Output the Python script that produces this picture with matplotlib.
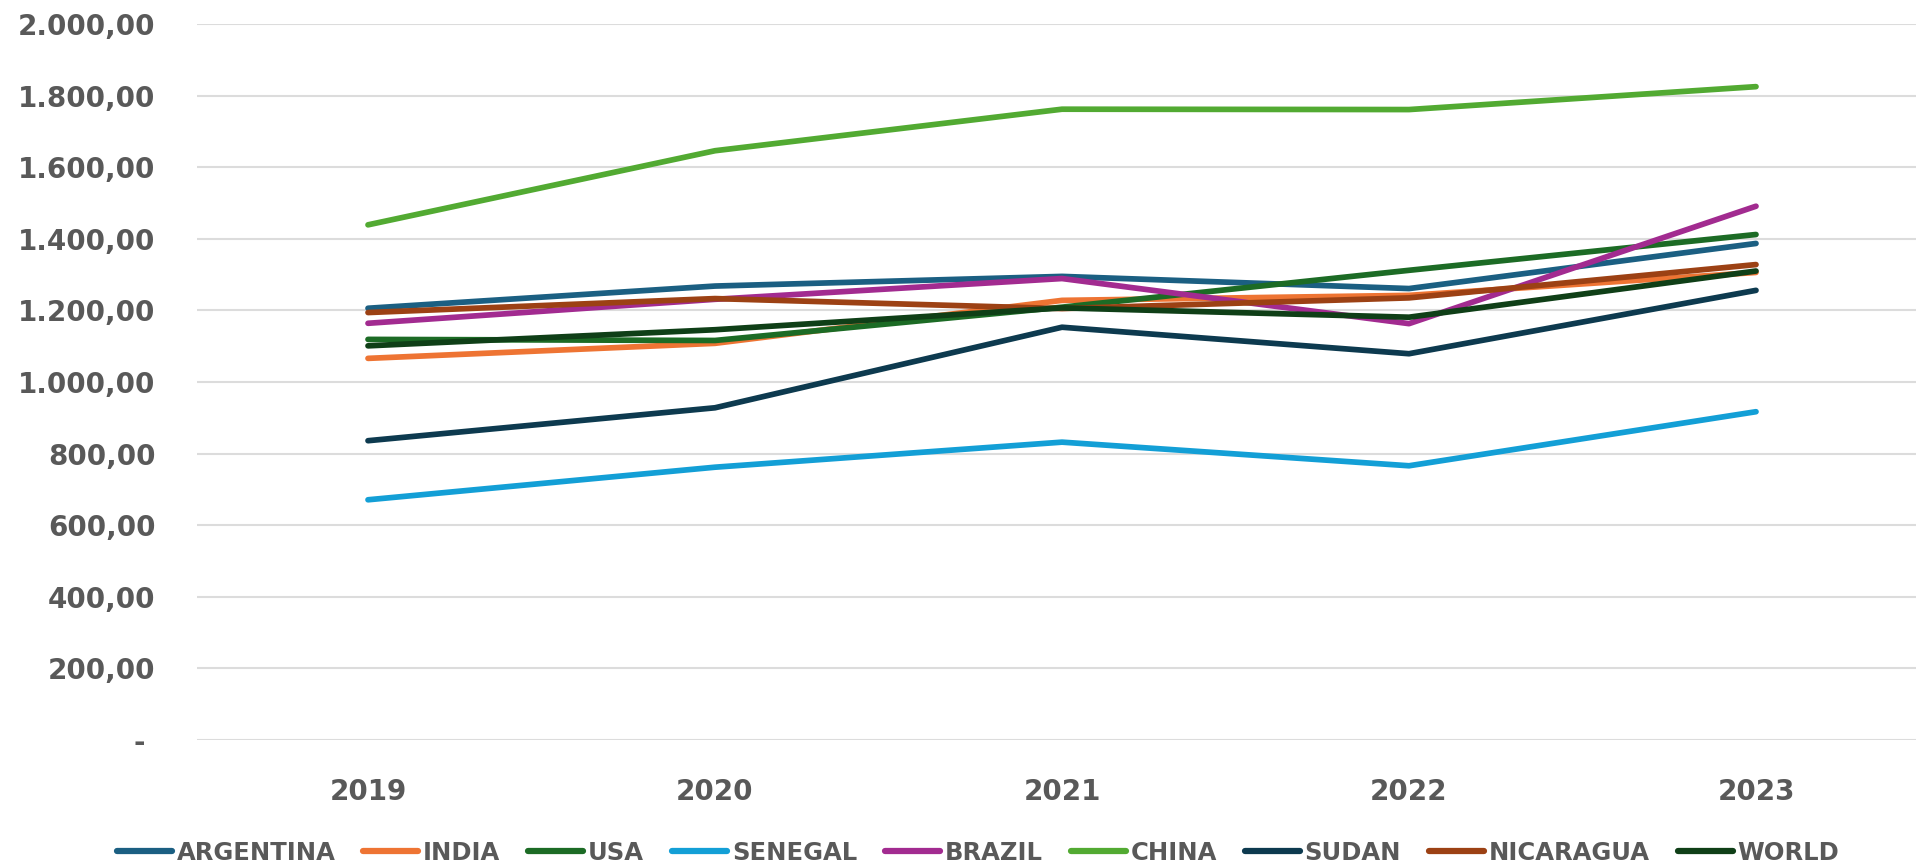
import matplotlib
matplotlib.use("Agg")
import matplotlib.pyplot as plt
import numpy as np

# data
years = ["2019", "2020", "2021", "2022", "2023"]
argentina = [1206, 1268, 1295, 1261, 1387]
india     = [1066, 1108, 1228, 1242, 1306]
usa       = [1119, 1116, 1209, 1312, 1412]
senegal   = [671, 762, 832, 766, 917]
brazil    = [1164, 1231, 1289, 1163, 1491]
china     = [1439, 1646, 1762, 1761, 1825]
sudan     = [836, 928, 1153, 1079, 1256]
nicaragua = [1194, 1233, 1205, 1235, 1328]
world     = [1101, 1146, 1207, 1181, 1310]

series = [
    ("ARGENTINA", argentina, "#1b5f82"),
    ("INDIA",     india,     "#ee7433"),
    ("USA",       usa,       "#1c6b25"),
    ("SENEGAL",   senegal,   "#139fd6"),
    ("BRAZIL",    brazil,    "#a22b90"),
    ("CHINA",     china,     "#52aa32"),
    ("SUDAN",     sudan,     "#0d3a4f"),
    ("NICARAGUA", nicaragua, "#9c4114"),
    ("WORLD",     world,     "#0f3f17"),
]
y_ticks = [0, 200, 400, 600, 800, 1000, 1200, 1400, 1600, 1800, 2000]

W, H = 1916, 867
fig = plt.figure(figsize=(W / 100, H / 100), dpi=100)
ax = fig.add_axes([197 / W, 1 - 740 / H, (W - 197) / W, (740 - 24) / H])

x = np.arange(len(years))
for name, vals, col in series:
    ax.plot(x, vals, color=col, linewidth=4.1, solid_capstyle="round",
            solid_joinstyle="round", label=name)

ax.set_ylim(0, 2000)
ax.set_xlim(-(368 - 197) / 347, 4 + (W - 1756) / 347)
ax.set_yticks(y_ticks)
ax.set_yticklabels(["- "] + [f"{v:,.2f}".replace(",", "X").replace(".", ",").replace("X", ".")
                             for v in y_ticks[1:]])
ax.set_xticks(x)
ax.set_xticklabels(years)
ax.grid(axis="y", color="#dcdcdc", linewidth=1.5)
ax.set_axisbelow(True)
for s in ax.spines.values():
    s.set_visible(False)
ax.tick_params(length=0)
ax.tick_params(axis="y", pad=30)
ax.tick_params(axis="x", pad=27)
for lab in ax.get_xticklabels() + ax.get_yticklabels():
    lab.set_fontfamily("DejaVu Sans")
    lab.set_fontweight("bold")
    lab.set_fontsize(20)
    lab.set_color("#595959")

leg = fig.legend(loc="center", bbox_to_anchor=(978 / W, 1 - 853 / H), ncol=9,
                 frameon=False, handlelength=2.26, handletextpad=0.2,
                 columnspacing=1.15, prop={"family": "DejaVu Sans", "weight": "bold", "size": 17.5})
for t in leg.get_texts():
    t.set_color("#595959")
for h in leg.legend_handles:
    h.set_linewidth(4.5)
    h.set_solid_capstyle("round")

fig.savefig("out.png", dpi=100)
